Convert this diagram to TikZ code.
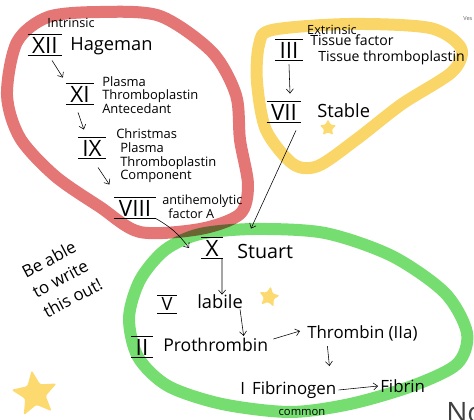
\documentclass[tikz,border=0pt]{standalone}
\usepackage{fontspec}
\setmainfont{Open Sans}
\usetikzlibrary{shapes.geometric,arrows.meta}

\definecolor{intrred}{RGB}{228,118,118}
\definecolor{extryellow}{RGB}{250,214,104}
\definecolor{commgreen}{RGB}{118,222,112}
\definecolor{staryellow}{RGB}{252,218,112}

\newcommand{\fsz}[2]{\fontsize{#1}{#2}\selectfont}

\tikzset{
  band/.style={line width=3mm, line join=round},
  numeral/.style={font=\fsz{16}{19}, inner xsep=3pt, inner ysep=1.5pt,
    append after command={(\tikzlastnode.north west) edge (\tikzlastnode.north east)
      (\tikzlastnode.south west) edge (\tikzlastnode.south east)}},
  hand/.style={inner sep=0pt, align=left, anchor=west},
  flow/.style={-{Straight Barb[length=3pt,width=5pt]}, thin},
  starry/.style={star, star points=5, star point ratio=2.2, fill=staryellow, rounded corners=1.5pt, inner sep=0pt}
}

\begin{document}
\begin{tikzpicture}[x=0.25mm,y=-0.25mm]
\useasboundingbox (0,0) rectangle (474,420);

  % the three loops
  \draw[band, commgreen] plot[smooth cycle] coordinates {(200,234) (255,229) (325,233) (392,256) (445,293) (467,333) (457,364) (412,386) (350,404) (290,412) (222,404) (168,386) (138,357) (129,318) (140,280) (165,250)};
  \begin{scope}[blend mode=multiply]
  \draw[band, intrred] plot[smooth cycle] coordinates {(100,12) (48,17) (17,42) (7,95) (20,138) (55,176) (100,207) (140,232) (200,229) (240,214) (248,185) (240,140) (236,95) (212,52) (160,16)};
  \end{scope}
  \draw[band, extryellow] plot[smooth cycle] coordinates {(272,30) (350,24) (430,28) (461,48) (452,72) (402,104) (357,139) (318,166) (293,164) (266,130) (257,82) (259,45)};

  % stars
  \node[starry, minimum size=48*0.25mm, rotate=8] (bigstar) at (35,394) {};
  \node[starry, minimum size=22*0.25mm, rotate=-10] (greenstar) at (269,297) {};
  \node[starry, minimum size=18*0.25mm] (yellowstar) at (328,128) {};

  % intrinsic
  \coordinate (XIIc) at (45,45);
  \coordinate (XIc) at (80,94);
  \coordinate (IXc) at (92,148);
  \coordinate (VIIIc) at (135,208);

  \node[font=\fsz{9}{11}] (intr) at (71,23) {Intrinsic};
  \node[numeral] (xii) at (XIIc) {XII};
  \node[hand, font=\fsz{13}{15}] (hag) at (70,46) {Hageman};
  \node[numeral] (xi) at (XIc) {XI};
  \node[hand, font=\fsz{9.2}{9.7}] (xitxt) at (102,95) {Plasma\\Thromboplastin\\Antecedant};
  \node[numeral] (ix) at (IXc) {IX};
  \node[hand, font=\fsz{9.2}{9.7}] (ixtxt) at (116,156) {Christmas\\\hspace*{1mm}Plasma\\\hspace*{1mm}Thromboplastin\\\hspace*{1mm}Component};
  \node[numeral] (viii) at (VIIIc) {VIII};
  \node[hand, font=\fsz{9}{10}] (viiitxt) at (162,207) {antihemolytic\\\hspace*{1.5mm}factor A};

  \draw[flow] ([shift={(1.75mm,-1.25mm)}]xii.south) -- ([shift={(-0.75mm,1.5mm)}]xi.north west);
  \draw[flow] ([shift={(-0.5mm,-2mm)}]xi.south) -- ([shift={(1.5mm,2mm)}]ix.north west);
  \draw[flow] ([shift={(1.5mm,-2.25mm)}]ix.south) -- ([shift={(-1.25mm,3.25mm)}]viii.north west);

  % extrinsic
  \coordinate (IIIc) at (289,50);
  \coordinate (VIIc) at (284,112);

  \node[font=\fsz{9}{11}] (extr) at (332,30) {Extrinsic};
  \node[numeral] (iii) at (IIIc) {III};
  \node[hand, font=\fsz{10}{11}] (iiitxt) at (310,50) {Tissue factor\\\hspace*{2mm}Tissue thromboplastin};
  \node[numeral] (vii) at (VIIc) {VII};
  \node[hand, font=\fsz{13}{15}] (stab) at (317,111) {Stable};

  \draw[flow] ([yshift=-1mm]iii.south) -- ([shift={(1.5mm,2mm)}]vii.north);

  % common
  \coordinate (Xc) at (212,248);
  \coordinate (Vc) at (167,304);
  \coordinate (IIc) at (142,347);

  \node[numeral] (x) at (Xc) {X};
  \node[hand, font=\fsz{14}{16}] (stu) at (237,251) {Stuart};
  \node[numeral, font=\fsz{13}{15}] (v) at (Vc) {V};
  \node[hand, font=\fsz{13}{15}] (lab) at (197,302) {labile};
  \node[numeral] (ii) at (IIc) {II};
  \node[hand, font=\fsz{12.5}{14}] (pro) at (163,345) {Prothrombin};
  \node[hand, font=\fsz{12}{14}] (thr) at (307,333) {Thrombin (IIa)};
  \node[hand, font=\fsz{12}{14}] (fbg) at (240,390) {I\, Fibrinogen};
  \node[hand, font=\fsz{12}{14}] (fib) at (380,386) {Fibrin};
  \node[font=\fsz{8}{10}] (comm) at (302,412) {common};

  \draw[flow] (viii.south east) to[bend left=12] ([xshift=-3mm]x.west);
  \draw[flow] ([shift={(3mm,-2mm)}]vii.south) -- ([shift={(7mm,2.25mm)}]x.north east);
  \draw[flow] ([xshift=2.5mm]x.south) -- ([xshift=0.5mm]lab.north);
  \draw[flow] ([xshift=5mm]lab.south) -- ([xshift=7mm,yshift=0.5mm]pro.north);
  \draw[flow] ([shift={(1.25mm,1.5mm)}]pro.east) -- ([shift={(-1.75mm,0.5mm)}]thr.west);
  \draw[flow] ([shift={(-8.75mm,-1.25mm)}]thr.south) -- ([shift={(-8.25mm,-6.25mm)}]thr.south);
  \draw[flow] ([xshift=0.5mm]fbg.east) -- ([xshift=-0.5mm]fib.west);

  % side notes
  \node[rotate=28, align=left, font=\fsz{12}{16}] (note) at (62,278) {Be able\\to write\\this out!};
  \node[hand, font=\fsz{20}{22}, text=black!75] (nopart) at (446,413) {No};
  \node[hand, font=\fsz{4}{5}, text=black!60] (vespart) at (463,19) {Ves};
\end{tikzpicture}
\end{document}
